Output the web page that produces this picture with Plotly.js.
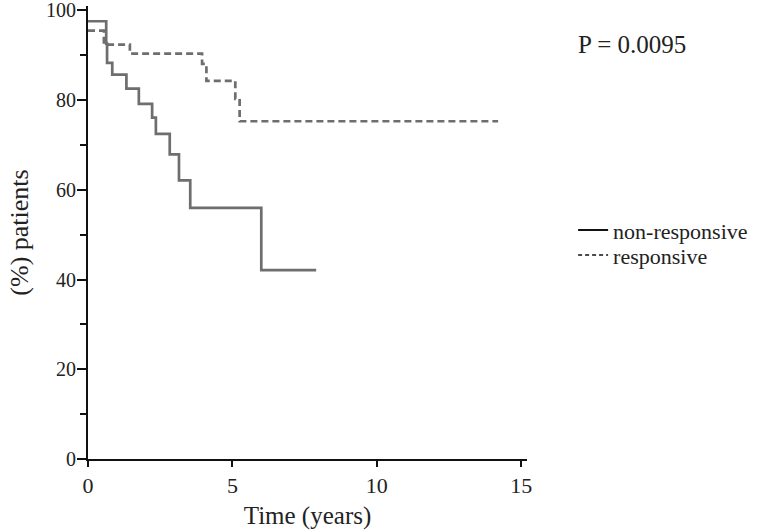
<!DOCTYPE html>
<html>
<head>
<meta charset="utf-8">
<script src="https://cdn.plot.ly/plotly-3.0.1.min.js"></script>
<style>html,body{margin:0;padding:0;background:#fff;}#chart{width:771px;height:531px;}</style>
</head>
<body>
<div id="chart"></div>
<script>
// Kaplan-Meier step data
const nonRespTime = [0, 0.63, 0.66, 0.84, 1.33, 1.76, 2.22, 2.35, 2.83, 3.15, 3.54, 6.0, 7.9];
const nonRespPct  = [97.6, 92.6, 88.3, 85.7, 82.6, 79.2, 76.1, 72.5, 67.9, 62.1, 56.0, 42.1, 42.1];
const respTime = [0, 0.55, 1.45, 3.95, 4.1, 5.1, 5.25, 14.2];
const respPct  = [95.5, 92.4, 90.4, 88.1, 84.3, 80.3, 75.3, 75.3];
const seriesNames = ['non-responsive', 'responsive'];
const xTicks = [0, 5, 10, 15];
const yTicks = [0, 20, 40, 60, 80, 100];
const pText = 'P = 0.0095';

const FONT = 'Liberation Serif, Times New Roman, serif';
const TXT = '#222';
const curveColor = '#6e6e6e';

const traces = [
  {x: nonRespTime, y: nonRespPct, mode: 'lines', line: {shape: 'hv', color: curveColor, width: 2.7}, showlegend: false, hoverinfo: 'skip'},
  {x: respTime, y: respPct, mode: 'lines', line: {shape: 'hv', color: curveColor, width: 2.7, dash: '7px,4px'}, showlegend: false, hoverinfo: 'skip'},
  {x: [null], y: [null], mode: 'lines', name: seriesNames[0], legend: 'legend', line: {color: '#111', width: 2}},
  {x: [null], y: [null], mode: 'lines', name: seriesNames[1], legend: 'legend2', line: {color: '#111', width: 1.6, dash: '4px,3px'}}
];

const legendCommon = {xanchor: 'left', yanchor: 'middle', bgcolor: 'rgba(0,0,0,0)', borderwidth: 0,
                      font: {family: FONT, size: 22, color: TXT}, itemwidth: 30};

const layout = {
  width: 771, height: 531,
  margin: {l: 87.5, r: 244, t: 6, b: 72, pad: 0},
  paper_bgcolor: '#fff', plot_bgcolor: '#fff',
  font: {family: FONT, size: 22, color: TXT},
  showlegend: true,
  legend: Object.assign({x: 1.105, y: 0.505}, legendCommon),
  legend2: Object.assign({x: 1.105, y: 0.450}, legendCommon),
  xaxis: {
    range: [0, 15.2], showgrid: false, zeroline: false,
    showline: true, linecolor: '#111', linewidth: 2,
    ticks: 'outside', ticklen: 6, tickwidth: 2, tickcolor: '#111',
    tickvals: xTicks, ticktext: xTicks.map(String),
    tickfont: {family: FONT, size: 22, color: TXT},
    title: {text: 'Time (years)', font: {family: FONT, size: 25, color: TXT}, standoff: 9}
  },
  yaxis: {
    range: [0, 101], showgrid: false, zeroline: false,
    showline: true, linecolor: '#111', linewidth: 2,
    ticks: 'outside', ticklen: 9, tickwidth: 2, tickcolor: '#111',
    tickvals: yTicks, ticktext: yTicks.map(String),
    tickfont: {family: FONT, size: 20, color: TXT},
    ticklabeloverflow: 'allow', ticklabelstandoff: -3,
    minor: {dtick: 10, ticks: 'outside', ticklen: 6, tickwidth: 2, tickcolor: '#111', showgrid: false},
    title: {text: '(%) patients', font: {family: FONT, size: 26, color: TXT}, standoff: 10}
  },
  annotations: [{
    text: pText, xref: 'paper', yref: 'paper', x: 1.24, y: 0.915,
    xanchor: 'center', yanchor: 'middle', showarrow: false,
    font: {family: FONT, size: 25, color: TXT}
  }]
};

Plotly.newPlot('chart', traces, layout, {staticPlot: true, displayModeBar: false});
</script>
</body>
</html>
